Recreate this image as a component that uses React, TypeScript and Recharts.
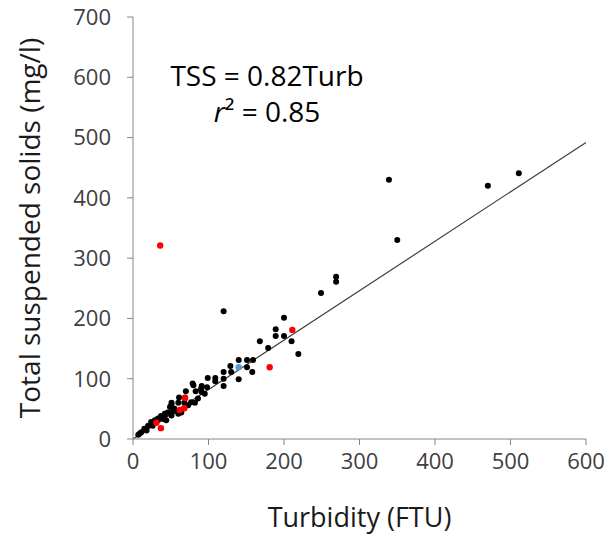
import { ScatterChart, Scatter, XAxis, YAxis, ReferenceLine } from "recharts";

const xTicks = [0, 100, 200, 300, 400, 500, 600];
const yTicks = [0, 100, 200, 300, 400, 500, 600, 700];

// turbidity (FTU) vs TSS (mg/l)
const blackPoints = [
  { x: 339, y: 430 }, { x: 470, y: 420 }, { x: 511, y: 441 }, { x: 350, y: 330 },
  { x: 269, y: 269 }, { x: 269, y: 261 }, { x: 249, y: 242 }, { x: 120, y: 212 },
  { x: 200, y: 201 }, { x: 189, y: 182 }, { x: 189, y: 171 }, { x: 200, y: 171 },
  { x: 210, y: 162 }, { x: 168, y: 162 }, { x: 179, y: 151 }, { x: 219, y: 141 },
  { x: 140, y: 131 }, { x: 151, y: 131 }, { x: 159, y: 131 }, { x: 129, y: 121 },
  { x: 151, y: 119 }, { x: 158, y: 111 }, { x: 140, y: 99 }, { x: 120, y: 111 },
  { x: 120, y: 100 }, { x: 120, y: 88 }, { x: 130, y: 111 }, { x: 99, y: 101 },
  { x: 109, y: 101 }, { x: 109, y: 96 }, { x: 98, y: 86 }, { x: 91, y: 88 },
  { x: 91, y: 78 }, { x: 83, y: 79 }, { x: 79, y: 92 }, { x: 80, y: 89 },
  { x: 90, y: 83 }, { x: 70, y: 79 }, { x: 69, y: 69 }, { x: 61, y: 69 },
  { x: 77, y: 61 }, { x: 68, y: 60 }, { x: 60, y: 60 }, { x: 51, y: 60 },
  { x: 51, y: 57 }, { x: 49, y: 53 }, { x: 57, y: 47 }, { x: 53, y: 46 },
  { x: 46, y: 44 }, { x: 42, y: 42 }, { x: 37, y: 38 }, { x: 33, y: 34 },
  { x: 29, y: 31 }, { x: 24, y: 28 }, { x: 20, y: 22 }, { x: 15, y: 17 },
  { x: 9, y: 9 }, { x: 7, y: 7 }, { x: 44, y: 31 }, { x: 40, y: 33 },
  { x: 51, y: 39 }, { x: 60, y: 42 }, { x: 64, y: 44 }, { x: 73, y: 56 },
  { x: 82, y: 60 }, { x: 86, y: 67 }, { x: 95, y: 75 }, { x: 55, y: 50 },
  { x: 42, y: 39 }, { x: 33, y: 31 }, { x: 26, y: 22 }, { x: 18, y: 14 },
  { x: 11, y: 11 },
];

const redPoints = [
  { x: 36, y: 321 }, { x: 211, y: 181 }, { x: 181, y: 119 }, { x: 69, y: 68 },
  { x: 68, y: 51 }, { x: 62, y: 48 }, { x: 31, y: 27 }, { x: 37, y: 18 },
];

const bluePoints = [{ x: 140, y: 119 }];

const slope = 0.82;
const fitLine = [
  { x: 0, y: 0 },
  { x: 600, y: slope * 600 },
];

const axisColor = "#868686";
const textColor = "#1a1a1a";
const tick = { fontSize: 22, fill: "#404040" };

const dot = (color: string, r: number) => (props: any) =>
  <circle cx={props.cx} cy={props.cy} r={r} fill={color} />;

export default function App() {
  return (
    <div style={{ position: "absolute", left: 0, top: 0, width: 610, height: 536, fontFamily: "'Open Sans', sans-serif", background: "#fff" }}>
      <ScatterChart width={610} height={536} margin={{ top: 17, right: 24, bottom: 0, left: 0 }}>
        <XAxis
          type="number"
          dataKey="x"
          domain={[0, 600]}
          ticks={xTicks}
          stroke={axisColor}
          tick={tick}
          tickSize={6}
          tickMargin={8}
          height={97}
          label={{ value: "Turbidity (FTU)", position: "insideBottom", offset: 9, fontSize: 27, fill: textColor }}
        />
        <YAxis
          type="number"
          dataKey="y"
          domain={[0, 700]}
          ticks={yTicks}
          stroke={axisColor}
          tick={tick}
          tickSize={6}
          tickMargin={16}
          width={133}
          label={{ value: "Total suspended solids (mg/l)", angle: -90, position: "insideLeft", offset: 30, fontSize: 28, fill: textColor, style: { textAnchor: "middle" } }}
        />
        <ReferenceLine segment={fitLine} stroke="#404040" strokeWidth={1.2} ifOverflow="visible" />
        <Scatter data={blackPoints} fill="#000" shape={dot("#000", 3)} isAnimationActive={false} />
        <Scatter data={redPoints} fill="#ff0000" shape={dot("#ff0000", 3.2)} isAnimationActive={false} />
        <Scatter data={bluePoints} fill="#5b9bd5" shape={dot("#5b9bd5", 3.2)} isAnimationActive={false} />
      </ScatterChart>
      <div style={{ position: "absolute", left: 120, width: 294, top: 57, textAlign: "center", fontSize: 28, lineHeight: "36px", color: "#000" }}>
        <div style={{ height: 36 }}>TSS = 0.82Turb</div>
        <div style={{ height: 36 }}><i>r</i>² = 0.85</div>
      </div>
    </div>
  );
}
